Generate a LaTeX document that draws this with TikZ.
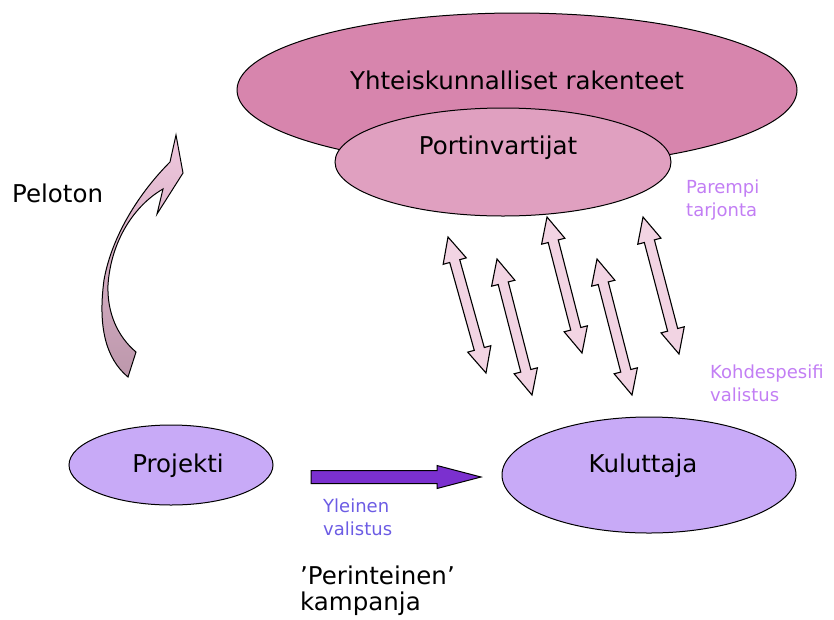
\documentclass[tikz,border=0pt]{standalone}
\usepackage{fontspec}
\setmainfont{DejaVu Sans}
\usepackage{xcolor}
\usetikzlibrary{calc,shapes.geometric}

\definecolor{rakpink}{HTML}{D785AD}
\definecolor{portpink}{HTML}{E0A0C0}
\definecolor{lavender}{HTML}{C8AAF7}
\definecolor{arrowpink}{HTML}{F2D4E3}
\definecolor{darkviolet}{HTML}{7B30CF}
\definecolor{lightviolet}{HTML}{C27EF4}
\definecolor{blueviolet}{HTML}{6C5CE4}
\definecolor{curvelow}{HTML}{BC97AB}
\definecolor{curvehigh}{HTML}{F0C8DE}

\tikzset{
  blob/.style={ellipse, draw=black, line width=1pt, inner sep=0pt},
  bigtext/.style={font=\fontsize{24.5}{27}\selectfont, text=black, inner sep=0pt, align=left},
  smalltext/.style={font=\fontsize{18}{23}\selectfont, inner sep=0pt, align=left, anchor=west},
  dblarrow/.style={draw=black, line width=1.1pt, fill=arrowpink, line join=miter},
}

\newcommand{\twoway}[2]{%
  \draw[dblarrow] (#1)
    -- ($(#1)!25pt!(#2)!12pt!90:(#2)$)
    -- ($(#1)!25pt!(#2)!5.2pt!90:(#2)$)
    -- ($(#2)!25pt!(#1)!5.2pt!-90:(#1)$)
    -- ($(#2)!25pt!(#1)!12pt!-90:(#1)$)
    -- (#2)
    -- ($(#2)!25pt!(#1)!12pt!90:(#1)$)
    -- ($(#2)!25pt!(#1)!5.2pt!90:(#1)$)
    -- ($(#1)!25pt!(#2)!5.2pt!-90:(#2)$)
    -- ($(#1)!25pt!(#2)!12pt!-90:(#2)$)
    -- cycle;}

\begin{document}
\begin{tikzpicture}[x=1pt, y=-1pt]
  \useasboundingbox (0,0) rectangle (834,619);

  \node[blob, fill=rakpink, minimum width=560pt, minimum height=154pt] (rakenteet) at (517,90) {};
  \node[blob, fill=portpink, minimum width=336pt, minimum height=108pt] (portti) at (503,162) {};
  \node[bigtext] (rakenteetlabel) at (517,80) {Yhteiskunnalliset rakenteet};
  \node[bigtext] (porttilabel) at (498,148) {Portinvartijat};

  \node[blob, fill=lavender, minimum width=204pt, minimum height=80pt] (projekti) at (171,465) {};
  \node[blob, fill=lavender, minimum width=294pt, minimum height=116pt] (kuluttaja) at (649,475) {};
  \node[bigtext] (projektilabel) at (178,466) {Projekti};
  \node[bigtext] (kuluttajalabel) at (643,466) {Kuluttaja};

  \coordinate (u1) at (448,237);
  \coordinate (d1) at (486,373);
  \coordinate (u2) at (497,259);
  \coordinate (d2) at (532,395);
  \coordinate (u3) at (547,217);
  \coordinate (d3) at (582,353);
  \coordinate (u4) at (597,259);
  \coordinate (d4) at (632,395);
  \coordinate (u5) at (643,217);
  \coordinate (d5) at (679,354);
  \twoway{u1}{d1}
  \twoway{u2}{d2}
  \twoway{u3}{d3}
  \twoway{u4}{d4}
  \twoway{u5}{d5}

  \coordinate (ytail) at (311,477);
  \coordinate (yhead) at (481,477);
  \draw[line width=1pt, fill=darkviolet, line join=miter] (ytail) ++(0,-6.5) -- ++(126,0) -- ++(0,-5) -- (yhead)
    -- ++(-44,11.5) -- ++(0,-5) -- ++(-126,0) -- cycle;

  \shadedraw[top color=curvehigh, bottom color=curvelow, draw=black, line width=1pt, line join=miter]
    (170,162) .. controls (140,192) and (112,235) .. (104,280)
    .. controls (98,325) and (105,358) .. (128,377)
    -- (136,352)
    .. controls (117,336) and (107,312) .. (108,285)
    .. controls (111,240) and (135,205) .. (163,189)
    -- (157,214) -- (183,173) -- (176,135) -- cycle;

  \node[bigtext, anchor=west] (peloton) at (12,193) {Peloton};
  \node[smalltext, text=lightviolet] (parempi) at (686,200) {Parempi\\tarjonta};
  \node[smalltext, text=lightviolet] (kohde) at (710,383) {Kohdespesifi\\valistus};
  \node[smalltext, text=blueviolet] (yleinen) at (323,517) {Yleinen\\valistus};
  \node[bigtext, anchor=west, font=\fontsize{24.5}{26}\selectfont] (kampanja) at (300,591) {’Perinteinen’\\kampanja};
\end{tikzpicture}
\end{document}
